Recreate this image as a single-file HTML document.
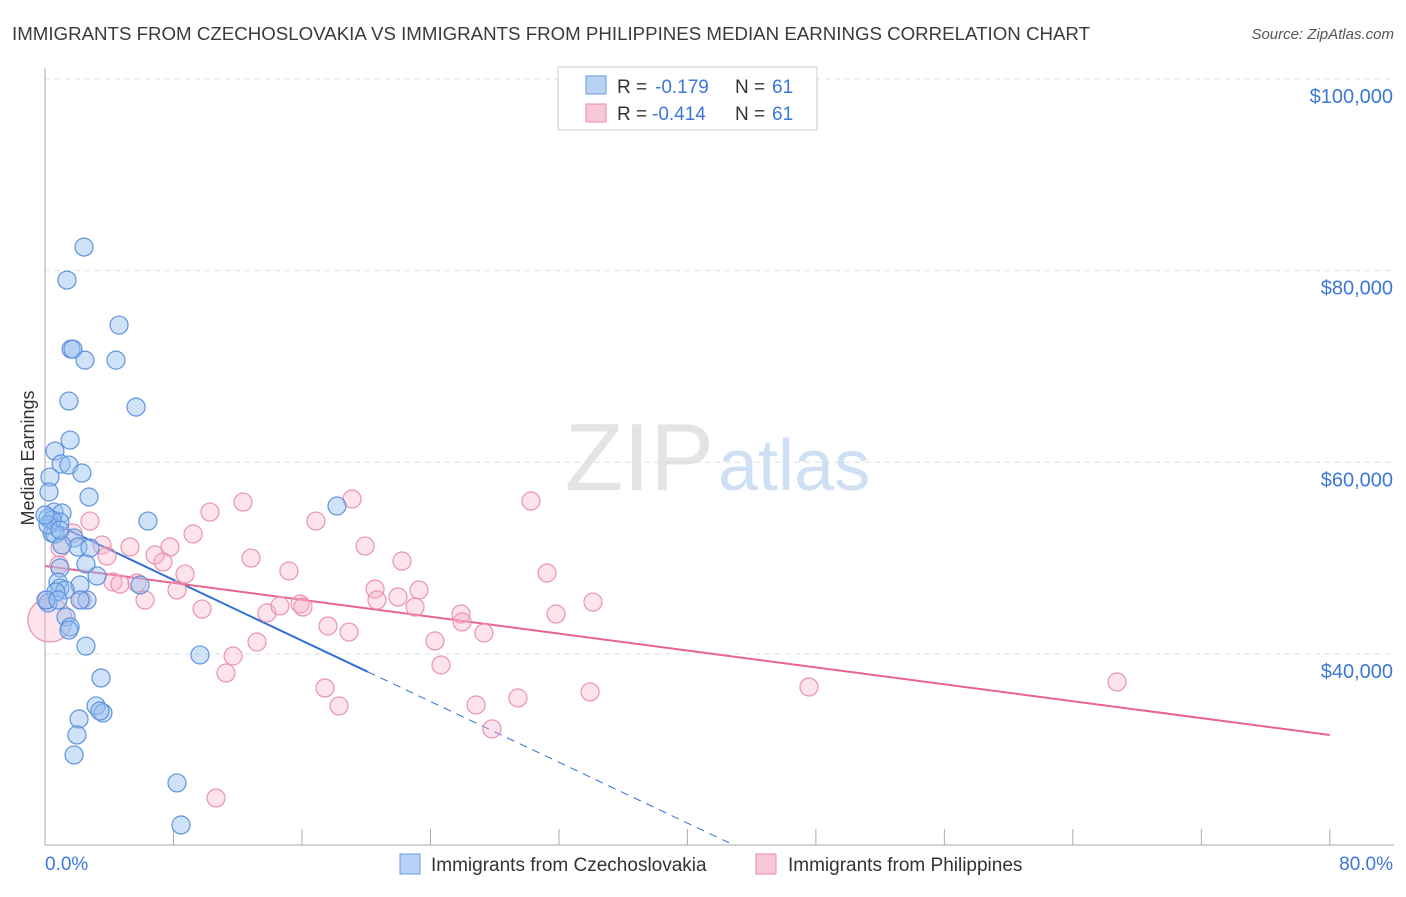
<!DOCTYPE html>
<html><head><meta charset="utf-8">
<style>
body{margin:0;background:#fff;font-family:"Liberation Sans",sans-serif;}
svg text{font-family:"Liberation Sans",sans-serif;}
</style></head>
<body>
<svg id="chart" width="1406" height="892" xmlns="http://www.w3.org/2000/svg">
<text x="12" y="40" font-size="18" fill="#3a3a3a" textLength="1078" lengthAdjust="spacingAndGlyphs">IMMIGRANTS FROM CZECHOSLOVAKIA VS IMMIGRANTS FROM PHILIPPINES MEDIAN EARNINGS CORRELATION CHART</text>
<text x="1394" y="39" font-size="15" fill="#555" text-anchor="end" font-style="italic">Source: ZipAtlas.com</text>
<text x="714" y="490" font-size="96" fill="#e4e4e4" text-anchor="end" font-family="Liberation Serif">ZIP</text>
<text x="718" y="490" font-size="72" fill="#cfe0f4">atlas</text>
<text transform="translate(34,458) rotate(-90)" font-size="18" fill="#333" text-anchor="middle">Median Earnings</text>
<g id="grid"></g><g id="axes"></g><g id="lines"></g><g id="pts"></g>
<g>
<rect x="558" y="67" width="259" height="63" fill="#fff" stroke="#ccc"/>
<rect x="586" y="76" width="20" height="18" fill="#b7d2f5" stroke="#6d9be0"/>
<text x="617" y="93" font-size="19" fill="#333">R =</text>
<text x="655" y="93" font-size="19" fill="#3c78d8">-0.179</text>
<text x="735" y="93" font-size="19" fill="#333">N =</text>
<text x="772" y="93" font-size="19" fill="#3c78d8">61</text>
<rect x="586" y="104" width="20" height="18" fill="#f8c8d8" stroke="#e98aaa"/>
<text x="617" y="120" font-size="19" fill="#333">R =</text>
<text x="652" y="120" font-size="19" fill="#3c78d8">-0.414</text>
<text x="735" y="120" font-size="19" fill="#333">N =</text>
<text x="772" y="120" font-size="19" fill="#3c78d8">61</text>
</g>
<g>
<rect x="400" y="854" width="20" height="20" fill="#b7d2f5" stroke="#6d9be0"/>
<text x="431" y="871" font-size="19" fill="#333">Immigrants from Czechoslovakia</text>
<rect x="756" y="854" width="20" height="20" fill="#f8c8d8" stroke="#e98aaa"/>
<text x="788" y="871" font-size="19" fill="#333">Immigrants from Philippines</text>
</g>
</svg>
<script>
const blueX=[2.43,1.37,4.61,1.62,1.74,2.49,4.42,5.67,1.49,1.56,0.62,1.0,1.49,2.30,0.31,0.25,2.74,6.41,18.18,0.56,1.06,0.19,0.93,0.44,0.62,1.81,2.05,2.80,2.55,0.93,3.24,0.81,0.93,2.18,1.25,0.68,2.62,2.18,0.19,1.31,1.56,1.49,2.55,9.65,3.49,3.18,3.61,2.12,1.99,1.81,8.22,8.47,0.06,0.44,5.92,3.42,1.06,0.19,0.81,0,0.93];
const blueY=[82450,79010,74320,71810,71810,70660,70660,65760,66390,62320,61170,59820,59710,58880,58460,56900,56380,53870,55440,54810,54710,54180,53770,52620,52520,52100,51160,51060,49390,48970,48140,47510,46880,47200,46680,46470,45630,45630,45320,43860,42820,42500,40830,39900,37500,34580,33850,33220,31550,29470,26550,22160,45630,53980,47200,34050,51370,53460,45630,54500,52930];
const pinkX=[0.31,2.80,10.27,12.33,19.12,30.26,16.87,3.55,1.74,5.29,6.85,7.78,9.22,12.83,19.93,22.23,15.19,8.72,7.35,3.86,4.23,4.67,5.73,6.23,8.22,2.30,9.78,13.82,14.63,15.88,16.06,17.62,18.93,20.55,20.67,21.98,23.04,23.29,25.90,25.97,27.33,24.28,31.26,31.82,34.12,13.20,11.71,11.27,24.66,17.43,18.31,26.84,29.45,33.94,47.57,66.75,27.83,10.65,0.87,0.93,0.12];
const pinkY=[43550,53870,54810,55850,56170,55960,53870,51370,52620,51160,50330,51160,52520,50010,51260,49700,48660,48340,49600,50220,47510,47300,47410,45630,46680,45630,44690,44280,45010,45220,44900,42920,42290,46780,45630,45950,44900,46680,44170,43340,42190,41360,48450,44170,45420,41250,39790,38020,38850,36450,34580,34680,35410,36040,36560,37080,32180,24980,49280,51060,45630];
const yTicks=[40000,60000,80000,100000];
const yTickLabels=["$40,000","$60,000","$80,000","$100,000"];
const xTickLabels=["0.0%","80.0%"];
const blueTrend=[54080,-793];
const pinkTrend=[49180,-220.4];
const NS="http://www.w3.org/2000/svg";
const xs=p=>45+p*16.06;
const ys=v=>654-(v-40000)*191.7/20000;
function mk(tag,attrs,parent){const e=document.createElementNS(NS,tag);for(const k in attrs)e.setAttribute(k,attrs[k]);document.getElementById(parent).appendChild(e);return e;}
yTicks.forEach((t,i)=>{
 const g=mk('line',{x1:45,x2:1394,y1:ys(t),y2:ys(t),stroke:'#ddd','stroke-dasharray':'5,5'},'grid');
 
 
 const l=mk('text',{x:1393,y:ys(t)+24,'font-size':20,fill:'#3c78d8','text-anchor':'end'},'axes');
 l.textContent=yTickLabels[i];
 
 
});
const ax=mk('line',{x1:45,x2:45,y1:68,y2:845,stroke:'#aaa'},'axes');


const bx=mk('line',{x1:45,x2:1394,y1:845,y2:845,stroke:'#aaa'},'axes');


for(let i=0;i<=10;i++){const t=mk('line',{x1:xs(i*8),x2:xs(i*8),y1:829,y2:845,stroke:'#aaa'},'axes');
 
 }
[[0,'start',45],[80,'end',1393]].forEach((d,i)=>{const t=mk('text',{x:d[2],y:870,'font-size':19,fill:'#3c78d8','text-anchor':d[1]},'axes');t.textContent=xTickLabels[i];
 
 });
function pts(X,Y,fill,stroke,name){X.forEach((x,i)=>{const big=(name==='pink-point'&&i===0);const c=mk('circle',{cx:xs(x),cy:ys(Y[i]),r:big?22:9,fill:fill,stroke:stroke,'stroke-width':1.2},'pts');
 
 });}
pts(pinkX,pinkY,'rgba(246,176,200,0.35)','#eb93b0','pink-point');
pts(blueX,blueY,'rgba(150,190,240,0.45)','#5e93de','blue-point');
const f=(tr,p)=>tr[0]+tr[1]*p;
const b1=mk('line',{x1:xs(0),y1:ys(f(blueTrend,0)),x2:xs(20.1),y2:ys(f(blueTrend,20.1)),stroke:'#2f6fd6','stroke-width':2},'lines');


const b2=mk('line',{x1:xs(20.1),y1:ys(f(blueTrend,20.1)),x2:xs(42.6),y2:ys(f(blueTrend,42.6)),stroke:'#2f6fd6','stroke-width':1,'stroke-dasharray':'8,6'},'lines');


const p1=mk('line',{x1:xs(0),y1:ys(f(pinkTrend,0)),x2:xs(80),y2:ys(f(pinkTrend,80)),stroke:'#e8648f','stroke-width':2},'lines');


</script>
</body></html>
